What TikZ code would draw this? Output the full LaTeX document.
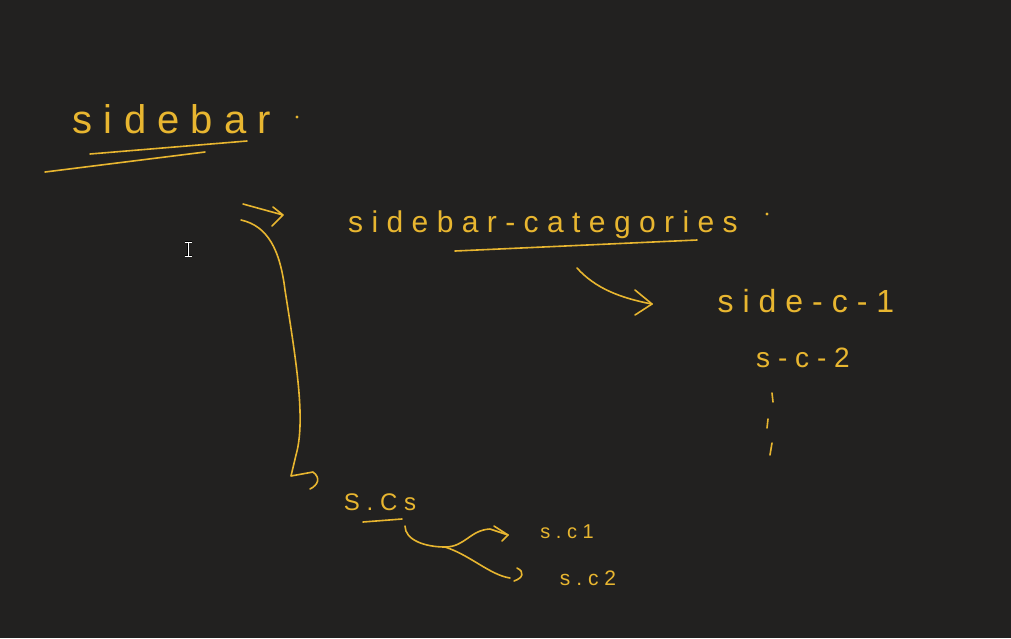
\documentclass[tikz,border=0pt]{standalone}
\usepackage{fontspec}
\newfontfamily\hand[LetterSpace=28]{Liberation Sans}
\definecolor{ink}{RGB}{232,182,48}
\definecolor{board}{RGB}{34,33,32}
\begin{document}
\begin{tikzpicture}[x=1pt,y=-1pt,
  pen/.style={draw=ink,line width=1.6pt,line cap=round,line join=round},
  lbl/.style={text=ink,inner sep=0pt,anchor=base}]
\fill[board] (0,0) rectangle (1011,638);
\useasboundingbox (0,0) rectangle (1011,638);
% labels
\node[lbl,font={\hand\fontsize{40}{46}\selectfont}] (sidebar) at (172,133) {sidebar};
\node[lbl,font={\hand\fontsize{30}{36}\selectfont}] (cats) at (543,232) {sidebar-categories};
\node[lbl,font={\hand\fontsize{32}{36}\selectfont}] (sc1) at (806,312) {side-c-1};
\node[lbl,font={\hand\fontsize{28}{32}\selectfont}] (sc2) at (803,367) {s-c-2};
\node[lbl,font={\hand\fontsize{24}{28}\selectfont}] (scs) at (380,510) {S.Cs};
\node[lbl,font={\hand\fontsize{20}{24}\selectfont}] (sca) at (567,538) {s.c1};
\node[lbl,font={\hand\fontsize{21}{25}\selectfont}] (scb) at (588,585) {s.c2};
% dots
\fill[ink] (297,117) circle[radius=1.6pt];
\fill[ink] (767,214) circle[radius=1.6pt];
% underlines
\draw[pen] (90,154) -- (247,141);
\draw[pen] (45,172) -- (205,152);
\draw[pen] (455,251) -- (697,240);
\draw[pen] (363,522) -- (402,519);
% arrow to categories
\coordinate (a1s) at (243,204);
\coordinate (a1t) at (283,215);
\draw[pen] (a1s) -- (a1t) (273,207) -- (a1t) -- (272,226);
% long curve down to S.Cs
\coordinate (c1s) at (241,220);
\coordinate (c1e) at (313,472);
\draw[pen] (c1s) .. controls (268,226) and (280,250) .. (285,290)
  .. controls (296,360) and (306,420) .. (296,455) -- (291,476) -- (c1e)
  .. controls (321,478) and (318,485) .. (310,489);
% arrow categories -> side-c-1
\coordinate (a2s) at (577,268);
\coordinate (a2t) at (652,304);
\draw[pen] (a2s) .. controls (595,288) and (620,298) .. (a2t);
\draw[pen] (635,290) -- (a2t) -- (635,315);
% ticks
\draw[pen] (772,393) -- (773,402);
\draw[pen] (768,419) -- (767,428);
\draw[pen] (772,443) -- (770,455);
% branch from S.Cs
\coordinate (bs) at (405,526);
\coordinate (bm) at (445,547);
\coordinate (bt1) at (508,535);
\coordinate (bt2) at (510,578);
\draw[pen] (bs) .. controls (405,540) and (425,547) .. (bm)
  .. controls (465,547) and (470,530) .. (490,529) -- (bt1);
\draw[pen] (494,526) -- (bt1) -- (502,541);
\draw[pen] (bm) .. controls (470,555) and (490,575) .. (bt2);
\draw[pen] (517,568) .. controls (525,572) and (523,578) .. (514,581);
% text cursor
\draw[black,line width=2.4pt] (184.5,242) -- (191.5,242) (188,242) -- (188,256) (184.5,256) -- (191.5,256);
\draw[white,line width=1pt] (184.5,242) -- (191.5,242) (188,242) -- (188,256) (184.5,256) -- (191.5,256);
\end{tikzpicture}
\end{document}
